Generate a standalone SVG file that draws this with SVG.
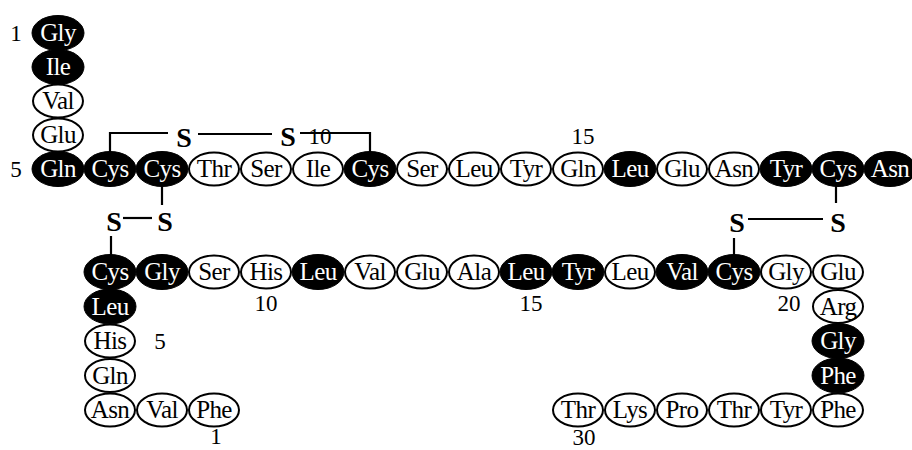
<svg xmlns="http://www.w3.org/2000/svg" width="912" height="450" viewBox="0 0 912 450">
<style>
.f ellipse{fill:#000;stroke:#000;stroke-width:1}
.o ellipse{fill:#fff;stroke:#000;stroke-width:2}
text{font-family:"Liberation Serif","Times New Roman",serif;font-size:25px;text-anchor:middle;letter-spacing:-0.6px}
.f text{fill:#fff}
.o text{fill:#000}
.s{font-weight:bold;font-size:28px;letter-spacing:0}
.n{font-size:23px;letter-spacing:0}
.b{stroke:#000;stroke-width:2.2;fill:none}
</style>
<rect width="912" height="450" fill="#fff"/>
<g id="connectors">
<polyline class="b" points="110,152 110,133 168,133"/>
<line class="b" x1="198" y1="134" x2="272" y2="134"/>
<polyline class="b" points="300,133 370,133 370,152"/>
<line class="b" x1="162" y1="186" x2="162" y2="205"/>
<line class="b" x1="123" y1="218" x2="152" y2="218"/>
<line class="b" x1="111" y1="236" x2="111" y2="256"/>
<line class="b" x1="836" y1="186" x2="836" y2="203"/>
<line class="b" x1="748" y1="219" x2="823" y2="219"/>
<line class="b" x1="734" y1="238" x2="734" y2="256"/>
</g>
<g id="labels">
<text class="s" x="184" y="147">S</text>
<text class="s" x="288" y="146">S</text>
<text class="s" x="114" y="231">S</text>
<text class="s" x="165" y="231">S</text>
<text class="s" x="737" y="232">S</text>
<text class="s" x="838" y="232">S</text>
<text class="n" x="16" y="41">1</text>
<text class="n" x="16" y="177">5</text>
<text class="n" x="320" y="144">10</text>
<text class="n" x="583" y="144">15</text>
<text class="n" x="160" y="349">5</text>
<text class="n" x="266" y="311">10</text>
<text class="n" x="531" y="311">15</text>
<text class="n" x="789" y="311">20</text>
<text class="n" x="216" y="444">1</text>
<text class="n" x="584" y="445">30</text>
</g>
<g id="A1" class="f" transform="translate(58,33)"><ellipse rx="26" ry="17.5"/><text y="8">Gly</text></g>
<g id="A2" class="f" transform="translate(58,67)"><ellipse rx="26" ry="17.5"/><text y="8">Ile</text></g>
<g id="A3" class="o" transform="translate(58,101)"><ellipse rx="25" ry="16.5"/><text y="8">Val</text></g>
<g id="A4" class="o" transform="translate(58,135)"><ellipse rx="25" ry="16.5"/><text y="8">Glu</text></g>
<g id="A5" class="f" transform="translate(58,169)"><ellipse rx="26" ry="17.5"/><text y="8">Gln</text></g>
<g id="A6" class="f" transform="translate(110,169)"><ellipse rx="26" ry="17.5"/><text y="8">Cys</text></g>
<g id="A7" class="f" transform="translate(162,169)"><ellipse rx="26" ry="17.5"/><text y="8">Cys</text></g>
<g id="A8" class="o" transform="translate(214,169)"><ellipse rx="25" ry="16.5"/><text y="8">Thr</text></g>
<g id="A9" class="o" transform="translate(266,169)"><ellipse rx="25" ry="16.5"/><text y="8">Ser</text></g>
<g id="A10" class="o" transform="translate(318,169)"><ellipse rx="25" ry="16.5"/><text y="8">Ile</text></g>
<g id="A11" class="f" transform="translate(370,169)"><ellipse rx="26" ry="17.5"/><text y="8">Cys</text></g>
<g id="A12" class="o" transform="translate(422,169)"><ellipse rx="25" ry="16.5"/><text y="8">Ser</text></g>
<g id="A13" class="o" transform="translate(474,169)"><ellipse rx="25" ry="16.5"/><text y="8">Leu</text></g>
<g id="A14" class="o" transform="translate(526,169)"><ellipse rx="25" ry="16.5"/><text y="8">Tyr</text></g>
<g id="A15" class="o" transform="translate(578,169)"><ellipse rx="25" ry="16.5"/><text y="8">Gln</text></g>
<g id="A16" class="f" transform="translate(630,169)"><ellipse rx="26" ry="17.5"/><text y="8">Leu</text></g>
<g id="A17" class="o" transform="translate(682,169)"><ellipse rx="25" ry="16.5"/><text y="8">Glu</text></g>
<g id="A18" class="o" transform="translate(734,169)"><ellipse rx="25" ry="16.5"/><text y="8">Asn</text></g>
<g id="A19" class="f" transform="translate(786,169)"><ellipse rx="26" ry="17.5"/><text y="8">Tyr</text></g>
<g id="A20" class="f" transform="translate(838,169)"><ellipse rx="26" ry="17.5"/><text y="8">Cys</text></g>
<g id="A21" class="f" transform="translate(890,169)"><ellipse rx="26" ry="17.5"/><text y="8">Asn</text></g>
<g id="B1" class="o" transform="translate(214,410)"><ellipse rx="25" ry="16.5"/><text y="8">Phe</text></g>
<g id="B2" class="o" transform="translate(162,410)"><ellipse rx="25" ry="16.5"/><text y="8">Val</text></g>
<g id="B3" class="o" transform="translate(110,410)"><ellipse rx="25" ry="16.5"/><text y="8">Asn</text></g>
<g id="B4" class="o" transform="translate(110,375.5)"><ellipse rx="25" ry="16.5"/><text y="8">Gln</text></g>
<g id="B5" class="o" transform="translate(110,341)"><ellipse rx="25" ry="16.5"/><text y="8">His</text></g>
<g id="B6" class="f" transform="translate(110,306.5)"><ellipse rx="26" ry="17.5"/><text y="8">Leu</text></g>
<g id="B7" class="f" transform="translate(110,272)"><ellipse rx="26" ry="17.5"/><text y="8">Cys</text></g>
<g id="B8" class="f" transform="translate(162,272)"><ellipse rx="26" ry="17.5"/><text y="8">Gly</text></g>
<g id="B9" class="o" transform="translate(214,272)"><ellipse rx="25" ry="16.5"/><text y="8">Ser</text></g>
<g id="B10" class="o" transform="translate(266,272)"><ellipse rx="25" ry="16.5"/><text y="8">His</text></g>
<g id="B11" class="f" transform="translate(318,272)"><ellipse rx="26" ry="17.5"/><text y="8">Leu</text></g>
<g id="B12" class="o" transform="translate(370,272)"><ellipse rx="25" ry="16.5"/><text y="8">Val</text></g>
<g id="B13" class="o" transform="translate(422,272)"><ellipse rx="25" ry="16.5"/><text y="8">Glu</text></g>
<g id="B14" class="o" transform="translate(474,272)"><ellipse rx="25" ry="16.5"/><text y="8">Ala</text></g>
<g id="B15" class="f" transform="translate(526,272)"><ellipse rx="26" ry="17.5"/><text y="8">Leu</text></g>
<g id="B16" class="f" transform="translate(578,272)"><ellipse rx="26" ry="17.5"/><text y="8">Tyr</text></g>
<g id="B17" class="o" transform="translate(630,272)"><ellipse rx="25" ry="16.5"/><text y="8">Leu</text></g>
<g id="B18" class="f" transform="translate(682,272)"><ellipse rx="26" ry="17.5"/><text y="8">Val</text></g>
<g id="B19" class="f" transform="translate(734,272)"><ellipse rx="26" ry="17.5"/><text y="8">Cys</text></g>
<g id="B20" class="o" transform="translate(786,272)"><ellipse rx="25" ry="16.5"/><text y="8">Gly</text></g>
<g id="B21" class="o" transform="translate(838,272)"><ellipse rx="25" ry="16.5"/><text y="8">Glu</text></g>
<g id="B22" class="o" transform="translate(838,306.5)"><ellipse rx="25" ry="16.5"/><text y="8">Arg</text></g>
<g id="B23" class="f" transform="translate(838,341)"><ellipse rx="26" ry="17.5"/><text y="8">Gly</text></g>
<g id="B24" class="f" transform="translate(838,375.5)"><ellipse rx="26" ry="17.5"/><text y="8">Phe</text></g>
<g id="B25" class="o" transform="translate(838,410)"><ellipse rx="25" ry="16.5"/><text y="8">Phe</text></g>
<g id="B26" class="o" transform="translate(786,410)"><ellipse rx="25" ry="16.5"/><text y="8">Tyr</text></g>
<g id="B27" class="o" transform="translate(734,410)"><ellipse rx="25" ry="16.5"/><text y="8">Thr</text></g>
<g id="B28" class="o" transform="translate(682,410)"><ellipse rx="25" ry="16.5"/><text y="8">Pro</text></g>
<g id="B29" class="o" transform="translate(630,410)"><ellipse rx="25" ry="16.5"/><text y="8">Lys</text></g>
<g id="B30" class="o" transform="translate(578,410)"><ellipse rx="25" ry="16.5"/><text y="8">Thr</text></g>
</svg>
